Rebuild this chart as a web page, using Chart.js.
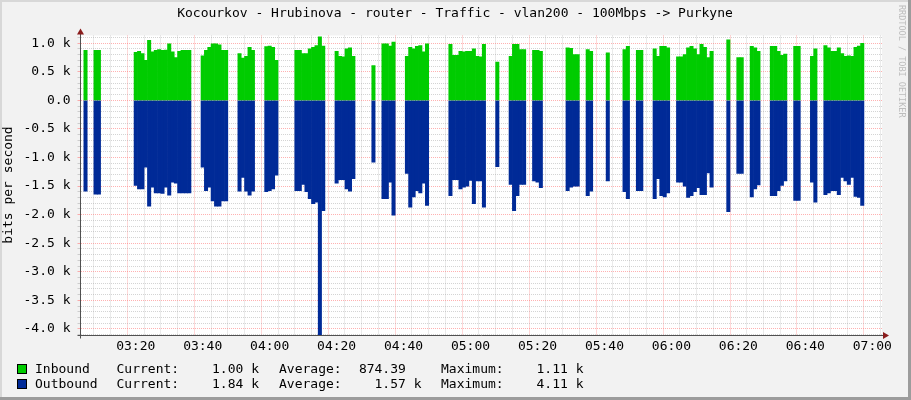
<!DOCTYPE html>
<html>
<head>
<meta charset="utf-8">
<title>Kocourkov - Hrubinova - router - Traffic - vlan200</title>
<script src="https://cdn.jsdelivr.net/npm/chart.js@4.4.1/dist/chart.umd.min.js"></script>
<style>
    html, body { margin: 0; padding: 0; background: #f2f2f2; }
    canvas { display: block; }
</style>
</head>
<body>
<canvas id="graph" width="911" height="400"></canvas>
<script>

//=================DATA==================

// one sample per minute (bits per second), first sample is 03:04
const firstMinute = 184; // minutes after midnight

const inbound = [
    null, 875, null, null, 875, 875, null, null, null, null,
    null, null, null, null, null, null, 840, 860, 820, 700,
    1050, 850, 875, 890, 875, 880, 990, 850, 750, 860,
    875, 875, 875, null, null, null, 780, 875, 930, 990,
    990, 970, 875, 875, null, null, null, 820, 740, 770,
    930, 875, null, null, null, 940, 950, 930, 700, null,
    null, null, null, null, 875, 875, 820, 820, 900, 930,
    960, 1110, 950, null, null, null, 860, 770, 760, 900,
    920, 770, null, null, null, null, null, 610, null, null,
    990, 990, 950, 1020, null, null, null, 770, 930, 900,
    945, 960, 850, 990, null, null, null, null, null, null,
    980, 790, 790, 860, 850, 860, 860, 900, 770, 760,
    980, null, null, null, 670, null, null, null, 770, 980,
    980, 890, 890, null, null, 875, 875, 860, null, null,
    null, null, null, null, null, 920, 910, 800, 800, null,
    null, 890, 860, null, null, null, null, 830, null, null,
    null, null, 890, 945, null, null, 875, 875, null, null,
    null, 900, 770, 945, 945, 920, null, null, 760, 760,
    800, 920, 945, 900, 800, 980, 930, 750, 860, null,
    null, null, null, 1060, null, null, 750, 750, null, null,
    945, 920, 860, null, null, null, 945, 945, 860, 790,
    810, null, null, 945, 945, null, null, null, 770, 900,
    null, null, 960, 920, 860, 860, 920, 820, 770, 780,
    770, 930, 950, 1000
];

const outbound = [
    null, -1590, null, null, -1640, -1640, null, null, null, null,
    null, null, null, null, null, null, -1490, -1550, -1550, -1170,
    -1850, -1520, -1620, -1620, -1630, -1520, -1660, -1430, -1450, -1620,
    -1620, -1620, -1620, null, null, null, -1170, -1580, -1520, -1760,
    -1850, -1850, -1760, -1760, null, null, null, -1590, -1350, -1590,
    -1660, -1590, null, null, null, -1600, -1580, -1550, -1310, null,
    null, null, null, null, -1580, -1580, -1470, -1600, -1720, -1810,
    -1780, -4110, -1930, null, null, null, -1450, -1390, -1390, -1550,
    -1590, -1370, null, null, null, null, null, -1080, null, null,
    -1720, -1720, -1430, -2010, null, null, null, -1280, -1870, -1690,
    -1580, -1620, -1450, -1840, null, null, null, null, null, null,
    -1670, -1390, -1390, -1550, -1520, -1500, -1400, -1810, -1410, -1410,
    -1870, null, null, null, -1160, null, null, null, -1470, -1930,
    -1670, -1470, -1470, null, null, -1410, -1430, -1530, null, null,
    null, null, null, null, null, -1580, -1520, -1500, -1500, null,
    null, -1670, -1590, null, null, null, null, -1410, null, null,
    null, null, -1600, -1720, null, null, -1580, -1580, null, null,
    null, -1720, -1370, -1670, -1690, -1620, null, null, -1430, -1430,
    -1500, -1700, -1670, -1600, -1530, -1650, -1650, -1270, -1520, null,
    null, null, null, -1950, null, null, -1280, -1280, null, null,
    -1690, -1550, -1480, null, null, null, -1670, -1670, -1580, -1490,
    -1410, null, null, -1750, -1750, null, null, null, -1430, -1780,
    null, null, -1650, -1620, -1580, -1580, -1650, -1350, -1410, -1470,
    -1350, -1680, -1700, -1840
];

// x axis labels, every 20 minutes from 03:20
const xTickLabels = ['03:20', '03:40', '04:00', '04:20', '04:40', '05:00',
    '05:20', '05:40', '06:00', '06:20', '06:40', '07:00'];
const xFirstLabel = 200; // 03:20 in minutes

// legend texts
const legendNames = ['Inbound', 'Outbound'];
const legendCurrent = ['1.00 k', '1.84 k'];
const legendAverage = ['874.39  ', '1.57 k'];
const legendMaximum = ['1.11 k', '4.11 k'];

const title = 'Kocourkov - Hrubinova - router - Traffic - vlan200 - 100Mbps -> Purkyne';

const GREEN = '#00cc00';
const BLUE = '#002a97';
const MONO = '"DejaVu Sans Mono", monospace';

// build points for chart.js
const inPoints = inbound.map((v, i) => ({ x: firstMinute + i, y: v }));
const outPoints = outbound.map((v, i) => ({ x: firstMinute + i, y: v }));

const yLabel = (v) => {
    if (v === 0) return '0.0';
    return (v / 1000).toFixed(1) + ' k';
};

const minorGrid = 'rgba(160,160,160,0.45)';
const majorGrid = 'rgba(255,100,100,0.5)';

// ---- rrdtool look: frame, canvas, axes, arrows, texts ----
const rrdLook = {
    id: 'rrdLook',
    beforeDraw(chart) {
        const c = chart.ctx;
        const a = chart.chartArea;
        c.save();
        c.fillStyle = '#f2f2f2';
        c.fillRect(0, 0, 911, 400);
        c.fillStyle = '#d8d8d8';
        c.fillRect(0, 0, 911, 2);
        c.fillRect(0, 0, 2, 400);
        c.fillStyle = '#9c9c9c';
        c.fillRect(0, 397, 911, 3);
        c.fillRect(908, 0, 3, 400);
        c.fillStyle = '#ffffff';
        c.fillRect(a.left, a.top, a.right - a.left, a.bottom - a.top);
        c.restore();
    },
    afterDraw(chart) {
        const c = chart.ctx;
        const a = chart.chartArea;
        c.save();

        // axes
        c.strokeStyle = '#505050';
        c.lineWidth = 1;
        c.beginPath();
        c.moveTo(a.left, a.bottom + 3);
        c.lineTo(a.left, a.top - 3);
        c.moveTo(a.left - 3, a.bottom);
        c.lineTo(a.right + 3, a.bottom);
        c.stroke();

        // arrows
        c.fillStyle = '#8a1c1c';
        c.beginPath();
        c.moveTo(a.left, a.top - 7);
        c.lineTo(a.left - 3.5, a.top - 1);
        c.lineTo(a.left + 3.5, a.top - 1);
        c.closePath();
        c.fill();
        c.beginPath();
        c.moveTo(a.right + 7, a.bottom);
        c.lineTo(a.right + 1, a.bottom - 3.5);
        c.lineTo(a.right + 1, a.bottom + 3.5);
        c.closePath();
        c.fill();

        // title
        c.fillStyle = '#000';
        c.font = '13px ' + MONO;
        c.textAlign = 'center';
        c.textBaseline = 'alphabetic';
        c.fillText(title, 455, 17);

        // y axis title
        c.save();
        c.translate(12, 185);
        c.rotate(-Math.PI / 2);
        c.textAlign = 'center';
        c.fillText('bits per second', 0, 0);
        c.restore();

        // watermark
        c.save();
        c.translate(899, 5);
        c.rotate(Math.PI / 2);
        c.fillStyle = '#bdbdbd';
        c.font = '8.5px ' + MONO;
        c.textAlign = 'left';
        c.fillText('RRDTOOL / TOBI OETIKER', 0, 0);
        c.restore();

        // legend
        const colors = [GREEN, BLUE];
        for (let i = 0; i < legendNames.length; i++) {
            const base = 372.5 + i * 15;
            c.fillStyle = colors[i];
            c.fillRect(17.5, base - 8, 9, 9);
            c.strokeStyle = '#000';
            c.strokeRect(17.5, base - 8, 9, 9);

            c.fillStyle = '#000';
            c.textAlign = 'left';
            c.fillText(legendNames[i], 35, base);
            c.fillText('Current:', 116.5, base);
            c.fillText('Average:', 279, base);
            c.fillText('Maximum:', 441, base);
            c.textAlign = 'right';
            c.fillText(legendCurrent[i], 259, base);
            c.fillText(legendAverage[i], 421.5, base);
            c.fillText(legendMaximum[i], 583.5, base);
        }
        c.restore();
    }
};

Chart.defaults.font.family = MONO;
Chart.defaults.font.size = 13;
Chart.defaults.color = '#000';

const ctx = document.getElementById('graph').getContext('2d');
const chart = new Chart(ctx, {
    type: 'bar',
    data: {
        datasets: [
            {
                label: 'Inbound',
                data: inPoints,
                backgroundColor: GREEN,
                borderWidth: 0,
                grouped: false,
                barPercentage: 1,
                categoryPercentage: 1
            },
            {
                label: 'Outbound',
                data: outPoints,
                backgroundColor: BLUE,
                borderWidth: 0,
                grouped: false,
                barPercentage: 1,
                categoryPercentage: 1
            }
        ]
    },
    options: {
        responsive: false,
        animation: false,
        devicePixelRatio: 1,
        layout: {
            padding: { left: 0, top: 35.5, right: 29, bottom: 0 }
        },
        plugins: {
            legend: { display: false },
            tooltip: { enabled: false },
            title: { display: false }
        },
        scales: {
            x: {
                type: 'linear',
                min: 183.5,
                max: 422.9,
                offset: false,
                z: 1,
                afterBuildTicks: (scale) => {
                    const t = [];
                    for (let v = 185; v <= 420; v += 5) t.push({ value: v });
                    scale.ticks = t;
                },
                afterFit: (scale) => { scale.height = 64.5; },
                ticks: {
                    autoSkip: false,
                    maxRotation: 0,
                    padding: 3,
                    callback: (v) => (v - xFirstLabel) % 20 === 0 && v >= xFirstLabel
                        ? xTickLabels[(v - xFirstLabel) / 20] : ''
                },
                grid: {
                    drawTicks: false,
                    color: (c) => (c.tick && c.tick.value % 20 === 0) ? majorGrid : minorGrid
                },
                border: { display: false, dash: [1, 1] }
            },
            y: {
                min: -4115,
                max: 1135,
                z: 1,
                afterBuildTicks: (scale) => {
                    const t = [];
                    for (let v = -4100; v <= 1100; v += 100) t.push({ value: v });
                    scale.ticks = t;
                },
                afterFit: (scale) => { scale.width = 80.5; },
                ticks: {
                    autoSkip: false,
                    padding: 7,
                    callback: (v) => v % 500 === 0 ? yLabel(v) : ''
                },
                grid: {
                    drawTicks: true,
                    tickLength: 3,
                    color: (c) => (c.tick && c.tick.value % 500 === 0) ? majorGrid : minorGrid
                },
                border: { display: false, dash: [1, 1] }
            }
        }
    },
    plugins: [rrdLook]
});
</script>
</body>
</html>
